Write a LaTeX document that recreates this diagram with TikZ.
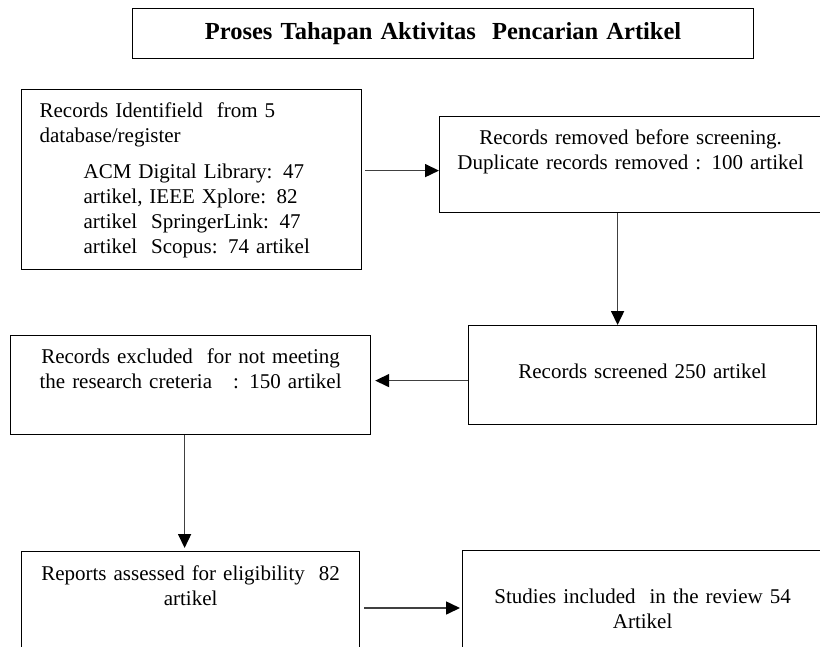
\documentclass[tikz,border=0pt]{standalone}
\usepackage{fontspec}
\setmainfont{Liberation Serif}
\usetikzlibrary{arrows.meta}

\tikzstyle{flow_box} = [rectangle, draw=black, line width=1.2pt, anchor=north west, inner xsep=6pt, inner ysep=0pt, align=center, font=\fontsize{21}{25}\selectfont]
\tikzstyle{arrow} = [line width=1.6pt, draw=black!75, -{Triangle[length=14pt, width=13pt, color=black]}]

\begin{document}
\begin{tikzpicture}[x=1pt, y=-1pt]
    \path [use as bounding box, clip] (0,0) rectangle (820,646);

    \node (title) [flow_box, text width=609pt, text height=31pt, text depth=19pt, font=\fontsize{24.5}{28}\selectfont\bfseries] at (132,8) {Proses Tahapan Aktivitas\ \ Pencarian Artikel};

    \node (ident) [flow_box, align=left, inner xsep=18pt, text width=304pt, text height=28pt, text depth=152pt] at (21,89)
        {Records Identifield\ \ from 5\\ database/register\\[11pt]
         \hspace*{44pt}ACM Digital Library: 47\\
         \hspace*{44pt}artikel, IEEE Xplore: 82\\
         \hspace*{44pt}artikel\ \ SpringerLink: 47\\
         \hspace*{44pt}artikel\ \ Scopus: 74 artikel};
    \node (removed) [flow_box, text width=370pt, text height=28pt, text depth=68pt] at (439,116)
        {Records removed before screening.\\ Duplicate records removed : 100 artikel};
    \node (screened) [flow_box, text width=336pt, text height=53pt, text depth=46pt] at (468,325)
        {Records screened 250 artikel};
    \node (excluded) [flow_box, text width=348pt, text height=28pt, text depth=71pt] at (10,335)
        {Records excluded\ \ for not meeting\\ the research creteria\ \ \ : 150 artikel};
    \node (assessed) [flow_box, text width=326pt, text height=29pt, text depth=120pt] at (21,551)
        {Reports assessed for eligibility\ \ 82\\ artikel};
    \node (included) [flow_box, text width=348pt, text height=53pt, text depth=100pt] at (462,550)
        {Studies included\ \ in the review 54\\ Artikel};

    \draw [arrow, shorten <=3pt] ([yshift=9pt]ident.east) -- ([yshift=9pt]ident.east -| removed.west);
    \draw [arrow] ([xshift=-13pt]removed.south) -- ([xshift=-13pt]removed.south |- screened.north);
    \draw [arrow, shorten >=4pt] ([yshift=-5.5pt]screened.west) -- ([yshift=-5.5pt]screened.west -| excluded.east);
    \draw [arrow, shorten >=3pt] ([xshift=-6pt]excluded.south) -- ([xshift=-6pt]excluded.south |- assessed.north);
    \draw [arrow, shorten <=4pt, shorten >=2pt] ([yshift=-57pt]assessed.north east) -- ([yshift=-57pt]assessed.north east -| included.west);
\end{tikzpicture}
\end{document}
